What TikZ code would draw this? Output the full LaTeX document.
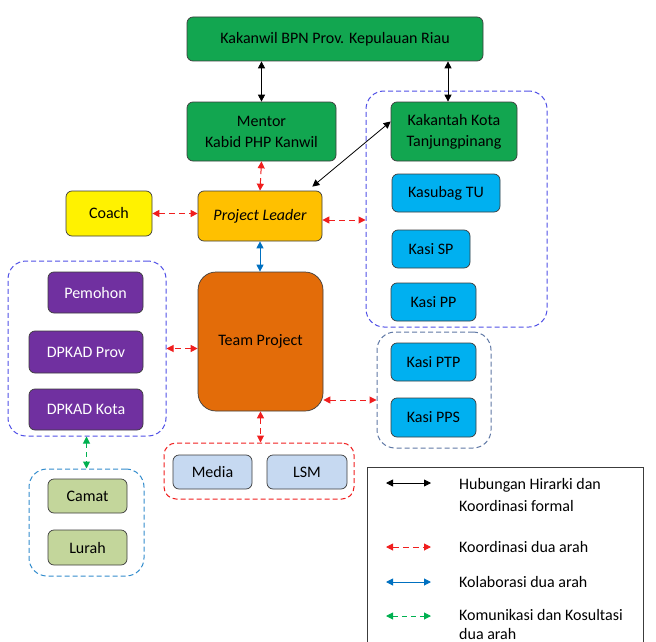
\documentclass[tikz,border=0pt]{standalone}
\usepackage{fontspec}
\setmainfont{Carlito}
\usetikzlibrary{arrows.meta}
\definecolor{kgreen}{RGB}{18,166,80}
\definecolor{kblue}{RGB}{0,176,240}
\definecolor{kpurple}{RGB}{112,48,160}
\definecolor{korange}{RGB}{227,108,9}
\definecolor{kgold}{RGB}{255,192,0}
\definecolor{klight}{RGB}{198,217,241}
\definecolor{kolive}{RGB}{195,214,155}
\definecolor{kline}{RGB}{60,60,60}
\definecolor{gviolet}{RGB}{80,80,230}
\definecolor{gslate}{RGB}{95,120,165}
\definecolor{gsky}{RGB}{50,140,205}
\definecolor{ared}{RGB}{240,30,30}
\definecolor{ablue}{RGB}{0,112,192}
\definecolor{agreen}{RGB}{0,176,80}
\begin{document}
\begin{tikzpicture}[x=1pt,y=-1pt,
  >={Triangle[length=7pt,width=7pt]},
  box/.style={draw=kline,line width=0.7pt,rounded corners=6pt,align=center,inner sep=0pt,font=\fontsize{16}{21}\selectfont},
  grp/.style={line width=1pt,rounded corners=18pt,dash pattern=on 5pt off 3pt,inner sep=0pt},
  formal/.style={<->,line width=0.8pt,black},
  dua/.style={<->,line width=1pt,ared,dash pattern=on 6pt off 4pt},
  kolab/.style={<->,line width=1pt,ablue},
  komun/.style={<->,line width=1pt,agreen,dash pattern=on 5pt off 4pt},
  legtext/.style={anchor=west,inner sep=0pt,align=left,font=\fontsize{16}{22}\selectfont}]
 \useasboundingbox (0,0) rectangle (656,642);
 \node[grp,draw=gviolet,minimum width=181,minimum height=236] (gkt) at (456.5,209) {};
 \node[grp,draw=gviolet,minimum width=158,minimum height=175] (gpm) at (87,348.5) {};
 \node[grp,draw=gslate,minimum width=114,minimum height=116] (gks) at (434,390) {};
 \node[grp,draw=ared,rounded corners=12pt,minimum width=190,minimum height=56] (gmd) at (259,471) {};
 \node[grp,draw=gsky,minimum width=115,minimum height=107] (gcl) at (86.5,522.5) {};
 \node[box,fill=kgreen,minimum width=296,minimum height=44] (kanwil) at (335,39) {Kakanwil BPN Prov. Kepulauan Riau};
 \node[box,fill=kgreen,minimum width=149,minimum height=59] (mentor) at (261.5,131.5) {Mentor\\Kabid PHP Kanwil};
 \node[box,fill=kgreen,minimum width=126,minimum height=59] (kakantah) at (454,131.5) {Kakantah Kota\\Tanjungpinang};
 \node[box,fill=kblue,minimum width=108,minimum height=38] (kasubag) at (446,193) {Kasubag TU};
 \node[box,fill=kblue,minimum width=78,minimum height=38] (kasisp) at (431,249) {Kasi SP};
 \node[box,fill=kblue,minimum width=85,minimum height=38] (kasipp) at (433.5,302) {Kasi PP};
 \node[box,fill=kblue,minimum width=85,minimum height=38] (kasiptp) at (433.5,362) {Kasi PTP};
 \node[box,fill=kblue,minimum width=85,minimum height=39] (kasipps) at (433.5,417.5) {Kasi PPS};
 \node[box,fill=yellow,minimum width=86,minimum height=45] (coach) at (109,213.5) {Coach};
 \node[box,fill=kgold,minimum width=124,minimum height=50] (pl) at (260,216) {\itshape Project Leader};
 \node[box,fill=korange,rounded corners=18pt,minimum width=125,minimum height=139] (team) at (260.5,341.5) {Team Project};
 \node[box,fill=kpurple,text=white,minimum width=95,minimum height=41] (pemohon) at (95.5,292.5) {Pemohon};
 \node[box,fill=kpurple,text=white,minimum width=114,minimum height=42] (dpprov) at (86,352) {DPKAD Prov};
 \node[box,fill=kpurple,text=white,minimum width=114,minimum height=41] (dpkota) at (86,409.5) {DPKAD Kota};
 \node[box,fill=klight,minimum width=79,minimum height=34] (media) at (212.5,472) {Media};
 \node[box,fill=klight,minimum width=80,minimum height=34] (lsm) at (307,472) {LSM};
 \node[box,fill=kolive,minimum width=79,minimum height=34] (camat) at (87.5,496) {Camat};
 \node[box,fill=kolive,minimum width=79,minimum height=35] (lurah) at (87.5,547.5) {Lurah};
 \draw[formal] (kanwil.south -| mentor) -- (mentor.north);
 \draw[formal] ([xshift=-6pt]kanwil.south -| kakantah) -- ([xshift=-6pt]kakantah.north);
 \draw[formal] ([xshift=-10pt,yshift=4pt]pl.north east) -- ([yshift=10pt]kakantah.west);
 \draw[dua] (mentor.south) -- (pl.north);
 \draw[dua] (coach.east) -- (coach.east -| pl.west);
 \draw[dua] ([yshift=-4pt]pl.east) -- ([yshift=-4pt]pl.east -| gkt.west);
 \draw[kolab] (pl.south) -- (pl.south |- team.north);
 \draw[dua] (team.west |- gpm) -- (gpm.east);
 \draw[dua] ([yshift=-10pt]team.east |- gks) -- ([yshift=-10pt]gks.west);
 \draw[dua] (team.south) -- (team.south |- gmd.north);
 \draw[komun] (gpm.south -| gcl) -- (gcl.north);
 \draw[line width=0.8pt,kline] (367,467) rectangle (643,680);
 \coordinate (la1) at (386,483); \coordinate (lb1) at (431,483);
 \coordinate (la2) at (386,547); \coordinate (lb2) at (431,547);
 \coordinate (la3) at (386,582); \coordinate (lb3) at (431,582);
 \coordinate (la4) at (386,616); \coordinate (lb4) at (431,616);
 \draw[formal] (la1) -- (lb1);
 \draw[dua] (la2) -- (lb2);
 \draw[kolab] (la3) -- (lb3);
 \draw[komun] (la4) -- (lb4);
 \node[legtext] (t1) at (459,495) {Hubungan Hirarki dan\\Koordinasi formal};
 \node[legtext,font=\fontsize{16}{19}\selectfont] (t4) at (459,624) {Komunikasi dan Kosultasi\\dua arah};
 \node[legtext] (t2) at (459,547) {Koordinasi dua arah};
 \node[legtext] (t3) at (459,582) {Kolaborasi dua arah};
\end{tikzpicture}
\end{document}
